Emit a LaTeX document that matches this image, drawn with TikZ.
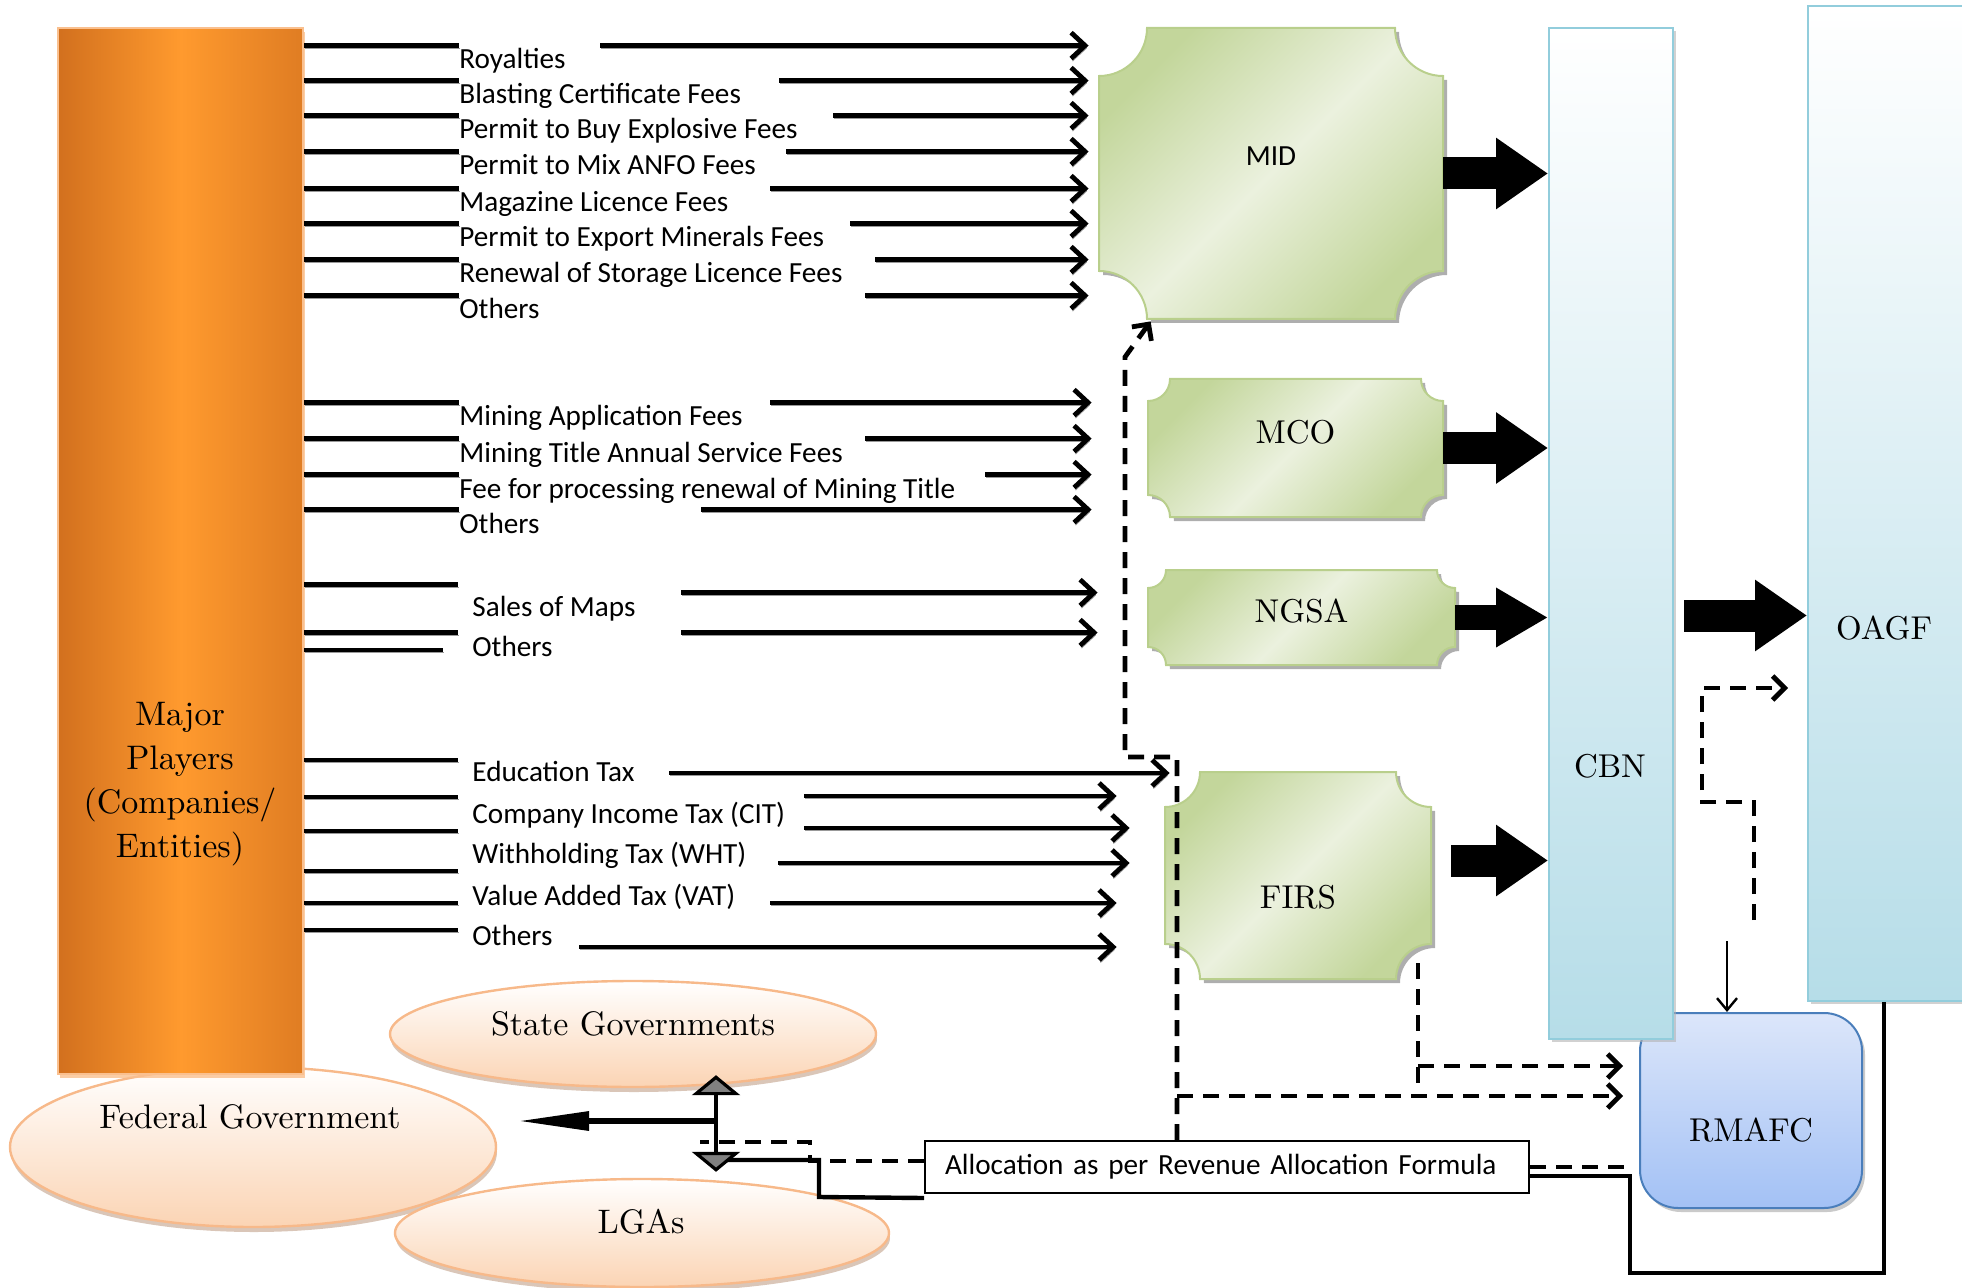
\documentclass[tikz,border=0pt]{standalone}
\usepackage{fontspec}
\newfontfamily\calib{Carlito}
\newfontfamily\plainserif{lmroman10-regular.otf}
\usetikzlibrary{arrows.meta,shapes.geometric,shadows,positioning}

\definecolor{orangedark}{HTML}{D2701E}
\definecolor{orangebright}{HTML}{FF9A2E}
\definecolor{orangeline}{HTML}{FAC08F}
\definecolor{greendark}{HTML}{C3D69B}
\definecolor{greenlight}{HTML}{EBF1DE}
\definecolor{greenline}{HTML}{B9CF8C}
\definecolor{bankblue}{HTML}{B6DDE8}
\definecolor{bankline}{HTML}{92CDDC}
\definecolor{rmafctop}{HTML}{DCE6FA}
\definecolor{rmafcbottom}{HTML}{A3C1F5}
\definecolor{rmafcline}{HTML}{4A7EBB}
\definecolor{peach}{HTML}{FBD4B4}
\definecolor{peachline}{HTML}{F7B98A}

\tikzstyle{fee}=[line width=2.4pt,preaction={draw=black!40,transform canvas={shift={(0.7pt,-1.3pt)}}}]
\tikzstyle{fee arrow}=[fee,-{Straight Barb[length=7pt,width=13pt]}]
\tikzstyle{fee label}=[font=\calib\fontsize{14.6}{17}\selectfont,inner sep=0pt,anchor=west,text height=11.5pt,text depth=3.5pt]
\tikzstyle{big text}=[font=\plainserif\fontsize{17}{22}\selectfont,inner sep=0pt,align=center]
\tikzstyle{agency text}=[font=\plainserif\fontsize{16.5}{19}\selectfont,inner sep=0pt]
\tikzstyle{plaque}=[draw=greenline,line width=1pt,top color=greendark,bottom color=greendark,middle color=greenlight,shading angle=45,drop shadow={shadow xshift=2pt,shadow yshift=-2pt,fill=black!45,opacity=.7}]
\tikzstyle{bank}=[draw=bankline,line width=1pt,top color=white,bottom color=bankblue,inner sep=0pt,drop shadow={shadow xshift=1.5pt,shadow yshift=-1.5pt,fill=black!30,opacity=.6}]
\tikzstyle{govt}=[ellipse,draw=peachline,line width=1.2pt,top color=white,bottom color=peach,inner sep=0pt,drop shadow={shadow xshift=.5pt,shadow yshift=-2.5pt,fill=peachline!70!black,opacity=.45}]
\tikzstyle{block arrow}=[line width=16pt,-{Triangle[length=26pt,width=34pt]}]
\tikzstyle{small block arrow}=[line width=12.5pt,-{Triangle[length=26pt,width=28pt]}]
\tikzstyle{dash line}=[line width=2.4pt,dash pattern=on 8pt off 5pt]
\tikzstyle{dash arrow}=[dash line,-{Straight Barb[length=6pt,width=12pt]}]
\tikzstyle{solid line}=[line width=2.2pt]

% box with hollowed corners: name, x1, y1, x2, y2, radius, text y, text
\newcommand{\plaquebox}[8]{%
  \path[plaque] ({#2+#6},#3) -- ({#4-#6},#3)
    .. controls ({#4-#6},{#3+0.552*#6}) and ({#4-0.552*#6},{#3+#6}) .. (#4,{#3+#6})
    -- (#4,{#5-#6})
    .. controls ({#4-0.552*#6},{#5-#6}) and ({#4-#6},{#5-0.552*#6}) .. ({#4-#6},#5)
    -- ({#2+#6},#5)
    .. controls ({#2+#6},{#5-0.552*#6}) and ({#2+0.552*#6},{#5-#6}) .. (#2,{#5-#6})
    -- (#2,{#3+#6})
    .. controls ({#2+0.552*#6},{#3+#6}) and ({#2+#6},{#3+0.552*#6}) .. ({#2+#6},#3) -- cycle;
  \node[inner sep=0pt,minimum width={(#4-#2)*0.5pt},minimum height={(#5-#3)*0.5pt}] (#1) at ({(#2+#4)/2},{(#3+#5)/2}) {};
  \node[agency text] (#1text) at ({(#2+#4)/2},#7) {#8};
}

\begin{document}
\begin{tikzpicture}[x=0.5pt,y=-0.5pt]
  \useasboundingbox (0,0) rectangle (1962,1288);

  % governments and major players
  \node[govt,minimum width=243pt,minimum height=80pt] (fg) at (253,1147) {};
  \node[draw=orangeline,line width=1pt,left color=orangedark,right color=orangedark!70!orangebright,middle color=orangebright,
        minimum width=122.5pt,minimum height=523pt,inner sep=0pt,
        drop shadow={shadow xshift=1pt,shadow yshift=-2pt,fill=orangeline,opacity=.8}] (players) at (180.5,551) {};
  \node[govt,minimum width=243pt,minimum height=53pt] (sg) at (633,1034) {};
  \node[govt,minimum width=247pt,minimum height=54pt] (lga) at (642,1233) {};
  \node[big text] (playerstext) at (180,784) {Major\\Players\\(Companies/\\Entities)};
  \node[big text] (fgtext) at (250,1117) {Federal Government};
  \node[big text] (sgtext) at (633,1024) {State Governments};
  \node[big text] (lgatext) at (641,1222) {LGAs};

  % fee labels
  \node[fee label] (roy) at (459,61) {Royalties};
  \node[fee label] (blast) at (459,96) {Blasting Certificate Fees};
  \node[fee label] (buy) at (459,131) {Permit to Buy Explosive Fees};
  \node[fee label] (anfo) at (459,167) {Permit to Mix ANFO Fees};
  \node[fee label] (mag) at (459,204) {Magazine Licence Fees};
  \node[fee label] (export) at (459,239) {Permit to Export Minerals Fees};
  \node[fee label] (renew) at (459,275) {Renewal of Storage Licence Fees};
  \node[fee label] (midoth) at (459,311) {Others};
  \node[fee label] (app) at (459,418) {Mining Application Fees};
  \node[fee label] (title) at (459,454) {Mining Title Annual Service Fees};
  \node[fee label] (process) at (459,490) {Fee for processing renewal of Mining Title};
  \node[fee label] (mcooth) at (459,525) {Others};
  \node[fee label] (maps) at (472,608) {Sales of Maps};
  \node[fee label] (ngsaoth) at (472,648) {Others};
  \node[fee label] (edu) at (472,773) {Education Tax};
  \node[fee label] (cit) at (472,815) {Company Income Tax (CIT)};
  \node[fee label] (wht) at (472,855) {Withholding Tax (WHT)};
  \node[fee label] (vat) at (472,897) {Value Added Tax (VAT)};
  \node[fee label] (firsoth) at (472,937) {Others};

  % agencies
  \plaquebox{mid}{1099}{28}{1443}{319}{48}{156}{\calib\fontsize{14.6}{17}\selectfont MID}
  \plaquebox{mco}{1148}{379}{1443}{517}{22}{432}{MCO}
  \plaquebox{ngsa}{1148}{570}{1455}{665}{18}{611}{NGSA}
  \plaquebox{firs}{1165}{772}{1431}{979}{35}{897}{FIRS}

  \node[draw=rmafcline,line width=1pt,rounded corners=19pt,top color=rmafctop,bottom color=rmafcbottom,
        minimum width=111pt,minimum height=97.5pt,inner sep=0pt,
        drop shadow={shadow xshift=1.5pt,shadow yshift=-2pt,fill=black!35,opacity=.6}] (rmafc) at (1751,1110.5) {};
  \node[bank,minimum width=62pt,minimum height=505.5pt] (cbn) at (1611,533.5) {};
  \node[bank,minimum width=83.5pt,minimum height=497.5pt] (oagf) at (1891.5,503.5) {};
  \node[agency text] (cbntext) at (1610,766) {CBN};
  \node[agency text] (oagftext) at (1884,628) {OAGF};
  \node[agency text] (rmafctext) at (1751,1130) {RMAFC};
  \node[draw,line width=1pt,fill=white,font=\calib\fontsize{14.6}{17}\selectfont,text width=282pt,
        inner xsep=10pt,inner ysep=0pt,minimum height=26pt,align=left] (alloc) at (1227,1167)
        {Allocation as per Revenue Allocation Formula};

  % MID fees
  \draw[fee] (players.east |- roy.north west) -- (roy.north west);
  \draw[fee] (players.east |- blast.north west) -- (blast.north west);
  \draw[fee] (players.east |- buy.north west) -- (buy.north west);
  \draw[fee] (players.east |- anfo.north west) -- (anfo.north west);
  \draw[fee] (players.east |- mag.north west) -- (mag.north west);
  \draw[fee] (players.east |- export.north west) -- (export.north west);
  \draw[fee] (players.east |- renew.north west) -- (renew.north west);
  \draw[fee] (players.east |- midoth.north west) -- (midoth.north west);
  \draw[fee arrow] ([xshift=70.5pt]roy.north west) -- ([xshift=-5pt]mid.west |- roy.north);
  \draw[fee arrow] ([xshift=160pt]blast.north west) -- ([xshift=-5pt]mid.west |- blast.north);
  \draw[fee arrow] ([xshift=187pt]buy.north west) -- ([xshift=-5pt]mid.west |- buy.north);
  \draw[fee arrow] ([xshift=163.5pt]anfo.north west) -- ([xshift=-5pt]mid.west |- anfo.north);
  \draw[fee arrow] ([xshift=155.5pt]mag.north west) -- ([xshift=-5pt]mid.west |- mag.north);
  \draw[fee arrow] ([xshift=195.5pt]export.north west) -- ([xshift=-5pt]mid.west |- export.north);
  \draw[fee arrow] ([xshift=208pt]renew.north west) -- ([xshift=-5pt]mid.west |- renew.north);
  \draw[fee arrow] ([xshift=203pt]midoth.north west) -- ([xshift=-5pt]mid.west |- midoth.north);

  % MCO fees
  \draw[fee] (players.east |- app.north west) -- (app.north west);
  \draw[fee] (players.east |- title.north west) -- (title.north west);
  \draw[fee] (players.east |- process.north west) -- (process.north west);
  \draw[fee] (players.east |- mcooth.north west) -- (mcooth.north west);
  \draw[fee arrow] ([xshift=155.5pt]app.north west) -- ([xshift=-28pt]mco.west |- app.north);
  \draw[fee arrow] ([xshift=203pt]title.north west) -- ([xshift=-28pt]mco.west |- title.north);
  \draw[fee arrow] ([xshift=263pt]process.north west) -- ([xshift=-28pt]mco.west |- process.north);
  \draw[fee arrow] ([xshift=121pt]mcooth.north west) -- ([xshift=-28pt]mco.west |- mcooth.north);

  % NGSA fees
  \coordinate (ngsaextra) at (443,650);
  \draw[fee] ([yshift=4pt]players.east |- maps.north west) -- ([xshift=-7pt,yshift=4pt]maps.north west);
  \draw[fee] (players.east |- ngsaoth.north west) -- ([xshift=-7pt]ngsaoth.north west);
  \draw[fee] (players.east |- ngsaextra) -- (ngsaextra);
  \draw[fee arrow] ([xshift=104.5pt]maps.north west) -- ([xshift=-25pt]ngsa.west |- maps.north);
  \draw[fee arrow] ([xshift=104.5pt]ngsaoth.north west) -- ([xshift=-25pt]ngsa.west |- ngsaoth.north);

  % FIRS taxes
  \coordinate (tl1) at (458,760);
  \coordinate (tl2) at (458,797);
  \coordinate (tl3) at (458,831);
  \coordinate (tl4) at (458,871);
  \coordinate (tl5) at (458,903);
  \coordinate (tl6) at (458,930);
  \coordinate (ta1) at (669,773);
  \coordinate (ta2) at (804,796);
  \coordinate (ta3) at (804,828);
  \coordinate (ta4) at (778,863);
  \coordinate (ta5) at (770,903);
  \coordinate (ta6) at (579,947);
  \draw[fee] (players.east |- tl1) -- (tl1);
  \draw[fee] (players.east |- tl2) -- (tl2);
  \draw[fee] (players.east |- tl3) -- (tl3);
  \draw[fee] (players.east |- tl4) -- (tl4);
  \draw[fee] (players.east |- tl5) -- (tl5);
  \draw[fee] (players.east |- tl6) -- (tl6);
  \draw[fee arrow] (ta1) -- ([xshift=2.5pt]firs.west |- ta1);
  \draw[fee arrow] (ta2) -- ([xshift=-24pt]firs.west |- ta2);
  \draw[fee arrow] (ta3) -- ([xshift=-17.5pt]firs.west |- ta3);
  \draw[fee arrow] (ta4) -- ([xshift=-17.5pt]firs.west |- ta4);
  \draw[fee arrow] (ta5) -- ([xshift=-24pt]firs.west |- ta5);
  \draw[fee arrow] (ta6) -- ([xshift=-24pt]firs.west |- ta6);

  % remittance to CBN and OAGF
  \draw[block arrow] (mid.east) -- (cbn.west |- mid.east);
  \draw[block arrow] (mco.east) -- (cbn.west |- mco.east);
  \draw[small block arrow] (ngsa.east) -- (cbn.west |- ngsa.east);
  \draw[block arrow] ([xshift=10pt,yshift=7.5pt]firs.east) -- ([yshift=7.5pt]cbn.west |- firs.east);
  \draw[block arrow] ([xshift=5pt,yshift=-41pt]cbn.east) -- ([yshift=-41pt]cbn.east -| oagf.west);

  % dashed flows
  \coordinate (k1) at (1177,757);
  \coordinate (k2) at (1125,757);
  \coordinate (k3) at (1125,357);
  \coordinate (jx) at (1177,1096);
  \coordinate (f1) at (1418,1066);
  \coordinate (o1) at (1754,920);
  \coordinate (o2) at (1754,802);
  \coordinate (o3) at (1702,802);
  \coordinate (o4) at (1702,688);
  \coordinate (r1) at (1727,941);
  \draw[dash arrow] (alloc.north -| k1) -- (k1) -- (k2) -- (k3) -- ([xshift=26pt,yshift=-1pt]mid.south west);
  \draw[dash arrow] (jx) -- ([xshift=-8pt]rmafc.west |- jx);
  \draw[dash line] ([yshift=8pt]firs.south -| f1) -- ([yshift=-11.5pt]f1);
  \draw[dash arrow] (f1) -- ([xshift=-8pt]rmafc.west |- f1);
  \draw[dash arrow] (o1) -- (o2) -- (o3) -- (o4) -- ([xshift=-9.5pt]oagf.west |- o4);
  \draw[line width=1.2pt,-{Straight Barb[length=6pt,width=10pt]}] (r1) -- (rmafc.north -| r1);

  % allocation back to governments
  \coordinate (b1) at (1884,1273);
  \coordinate (b2) at (1630,1273);
  \coordinate (b3) at (1630,1176);
  \coordinate (hub) at (716,1121);
  \coordinate (s1) at (819,1197);
  \coordinate (s2) at (819,1160);
  \coordinate (d1) at (810,1161);
  \coordinate (d2) at (810,1142);
  \coordinate (d3) at (700,1142);
  \draw[solid line] (oagf.south -| b1) -- (b1) -- (b2) -- (b3) -- (alloc.east |- b3);
  \draw[dash line] (alloc.east) -- (b2 |- alloc.east);
  \draw[solid line] ([yshift=-2pt]alloc.south west) -- (s1) -- (s2) -- (s2 -| hub);
  \draw[dash line] (alloc.west |- d1) -- (d1) -- (d2) -- (d3);
  \draw[fee,line width=3.2pt,-{Triangle[length=36pt,width=9pt]}] (hub) -- ([xshift=10pt]fg.east |- hub);
  \draw[line width=1.6pt,{Triangle[length=10pt,width=24pt,fill=gray,line width=1.6pt]}-{Triangle[length=10pt,width=24pt,fill=gray,line width=1.6pt]}]
    ([yshift=6.5pt]sg.south -| hub) -- ([yshift=3pt]lga.north -| hub);
\end{tikzpicture}
\end{document}
